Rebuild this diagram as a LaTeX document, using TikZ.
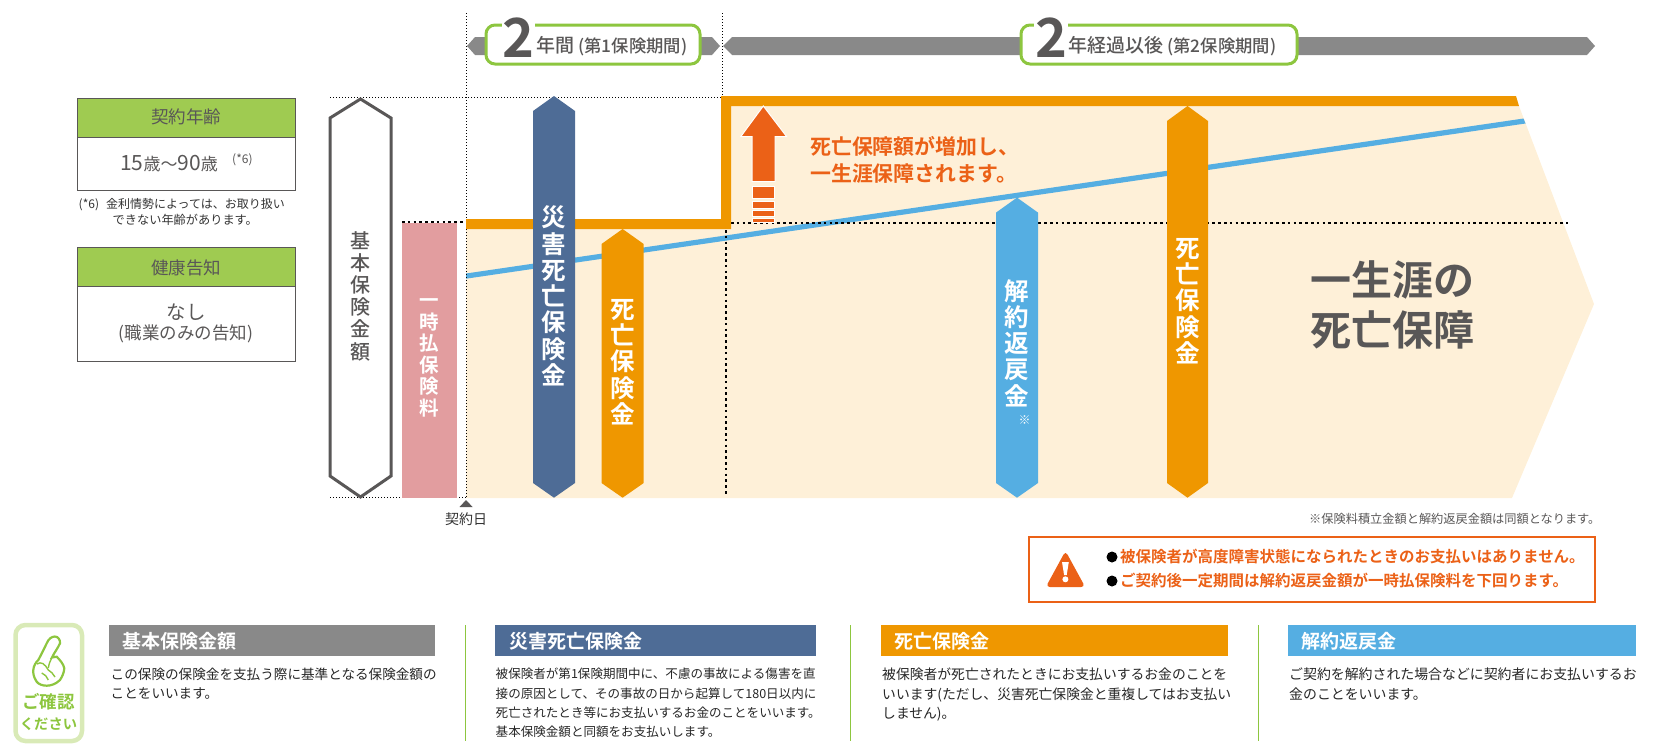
\documentclass[tikz,border=0pt]{standalone}
\usepackage{fontspec}
\setmainfont{Noto Sans CJK JP}[BoldFont={Noto Sans CJK JP Bold}]
\newfontfamily\midfont{Noto Sans CJK JP Medium}
\usepackage{tikz}
\usetikzlibrary{positioning, calc}

\definecolor{LeafGreen}{HTML}{9FCB51}
\definecolor{EdgeGreen}{HTML}{8DC63F}
\definecolor{PaleGreen}{HTML}{D9EAB7}
\definecolor{Slate}{HTML}{4E6C96}
\definecolor{Amber}{HTML}{EF9700}
\definecolor{Sky}{HTML}{55AEE2}
\definecolor{Cream}{HTML}{FEF0D8}
\definecolor{BarGray}{HTML}{898989}
\definecolor{InkGray}{HTML}{595757}
\definecolor{Rust}{HTML}{EB6117}
\definecolor{Rose}{HTML}{E29D9F}

\newcommand{\fsize}[1]{\fontsize{#1}{#1}\selectfont}

\tikzset{
    fineDots/.style={black, line width=0.9pt, dash pattern=on 1pt off 2pt},
    fatDots/.style={black, line width=2.6pt, dash pattern=on 2.6pt off 3.2pt},
    noteText/.style={inner sep=0pt, anchor=west, text=InkGray},
    columnTitle/.style={inner sep=0pt, anchor=west, text=white, font=\bfseries\fsize{19}},
    columnBody/.style={inner sep=0pt, anchor=north west, align=left, text=black!85,
        font=\fontsize{#1}{19.2}\selectfont},
    upright/.style={inner sep=0pt, align=center, text=white,
        font=\bfseries\fontsize{24.5}{26.3}\selectfont},
    warnText/.style={inner sep=0pt, anchor=west, text=Rust, font=\bfseries\fsize{15.5}},
    greenTag/.style={draw=InkGray, line width=1pt, fill=LeafGreen},
    whiteTag/.style={draw=InkGray, line width=1pt, fill=white},
    periodBox/.style={draw=EdgeGreen, line width=3pt, fill=white, rounded corners=9pt}
}

\begin{document}
\begin{tikzpicture}[x=1pt, y=-1pt]
    \useasboundingbox (0,0) rectangle (1655,755);

    \coordinate (start) at (466,0);
    \coordinate (switch) at (722,0);

    % cream area
    \fill[Cream] (466,229) -- (731,229) -- (731,106) -- (1519,106)
        -- (1594,304) -- (1512,498) -- (466,498) -- cycle;

    % surrender value line
    \fill[Sky] (466,273.5) -- (1523.5,118.5) -- (1525.5,123.5) -- (466,278.7) -- cycle;

    % dotted guides
    \draw[fineDots] (start |- 0,13) -- (start |- 0,498);
    \draw[fineDots] (switch |- 0,13) -- (switch |- 0,97);
    \draw[fineDots] (330,97) -- (switch |- 0,97);
    \draw[fineDots] (330,497.5) -- (start |- 0,497.5);
    \draw[fatDots] (402,222) -- (466,222);
    \draw[fatDots] (731,223) -- (1568,223);
    \draw[fatDots] (726,230) -- (726,495);

    % death benefit level
    \fill[Amber] (466,219) -- (721,219) -- (721,96) -- (1516,96) -- (1519,106)
        -- (731,106) -- (731,229) -- (466,229) -- cycle;

    % period bars
    \fill[BarGray] (467,46) -- (475,37) -- (712,37) -- (720,46) -- (712,55) -- (475,55) -- cycle;
    \fill[BarGray] (723,46) -- (732,37) -- (1587,37) -- (1595,46) -- (1587,55) -- (732,55) -- cycle;
    \draw[periodBox] (486,25) rectangle (700,64);
    \draw[periodBox] (1021,25) rectangle (1297,64);
    \node[inner sep=1pt, fill=white, text=InkGray, font=\bfseries\fsize{54}] (firstTwo) at (518.5,38) {2};
    \node[inner sep=1pt, fill=white, text=InkGray, font=\bfseries\fsize{54}] (secondTwo) at (1051,38) {2};
    \node[noteText, font=\midfont\fsize{19}] (firstPeriod) at (536,46)
        {年間 {\fsize{17.3}(第1保険期間)}};
    \node[noteText, font=\midfont\fsize{19}] (secondPeriod) at (1068,46)
        {年経過以後 {\fsize{17.3}(第2保険期間)}};

    % left tags
    \draw[greenTag] (77.5,98) rectangle (295,137);
    \draw[whiteTag] (77.5,137) rectangle (295,190);
    \draw[greenTag] (77.5,247) rectangle (295,286.5);
    \draw[whiteTag] (77.5,286.5) rectangle (295,361);
    \node[text=InkGray, font=\fsize{17.5}, inner sep=0pt] (ageHead) at (186,117) {契約年齢};
    \node[noteText, font=\fsize{21}] (ageRange) at (120,164)
        {15{\fsize{17}歳}{\fsize{17}〜}90{\fsize{17}歳}};
    \node[noteText, font=\fsize{12}] (ageMark) at (232,160) {(*6)};
    \node[noteText, text=black!80, font=\fsize{12}] (ageNoteA) at (78.5,205)
        {(*6)\hspace{7pt}金利情勢によっては、お取り扱い};
    \node[noteText, text=black!80, font=\fsize{12.2}] (ageNoteB) at (112.5,220)
        {できない年齢があります。};
    \node[text=InkGray, font=\fsize{17.5}, inner sep=0pt] (healthHead) at (186,267.5) {健康告知};
    \node[text=InkGray, font=\fsize{19.5}, inner sep=0pt] (healthNone) at (186,312) {なし};
    \node[text=InkGray, font=\fsize{17.5}, inner sep=0pt] (healthJob) at (186,333.5) {(職業のみの告知)};

    % sum insured and premium
    \draw[InkGray, line width=3pt, fill=white]
        (360.5,99) -- (391,118) -- (391,476) -- (360.5,497) -- (330,476) -- (330,118) -- cycle;
    \fill[Rose] (402,223) rectangle (457,497.5);
    \node[upright, text=InkGray, font=\midfont\fontsize{20}{22.2}\selectfont] (sumLabel) at (360.5,296)
        {基\\本\\保\\険\\金\\額};
    \node[upright, font=\bfseries\fontsize{19.5}{21.6}\selectfont] (premiumLabel) at (429.5,358)
        {一\\時\\払\\保\\険\\料};

    % benefit arrows
    \foreach \left/\right/\top/\shade in {
        533/575/96/Slate, 601.5/643.7/229/Amber, 996/1038/197.6/Sky, 1167/1208/106/Amber}
    {
        \fill[\shade] ($(\left,\top)!0.5!(\right,\top)$) -- (\right,\top+15) -- (\right,483)
            -- ($(\left,497.7)!0.5!(\right,497.7)$) -- (\left,483) -- (\left,\top+15) -- cycle;
    }
    \node[upright] (accidentLabel) at (554,296) {災\\害\\死\\亡\\保\\険\\金};
    \node[upright] (deathLabelA) at (622.6,362) {死\\亡\\保\\険\\金};
    \node[upright] (refundLabel) at (1017,343) {解\\約\\返\\戻\\金};
    \node[inner sep=0pt, text=white, font=\fsize{12}] (refundMark) at (1024.6,420) {※};
    \node[upright] (deathLabelB) at (1187.6,301) {死\\亡\\保\\険\\金};

    % rising arrow
    \draw[white, line width=1pt, fill=Rust]
        (763.3,106) -- (786.7,136.7) -- (775,136.7) -- (775,181.7) -- (752,181.7)
        -- (752,136.7) -- (740.7,136.7) -- cycle;
    \foreach \ya/\yb in {186.7/198.3, 201.7/208.3, 210.7/216, 218.7/222.5}
    {
        \draw[white, line width=1pt, fill=Rust] (752.5,\ya) rectangle (774.5,\yb);
    }
    \node[noteText, text=Rust, font=\bfseries\fsize{20.9}] (riseA) at (810,146) {死亡保障額が増加し、};
    \node[noteText, text=Rust, font=\bfseries\fsize{20.9}] (riseB) at (810,174) {一生涯保障されます。};
    \node[noteText, font=\bfseries\fsize{41}] (lifeA) at (1310,280) {一生涯の};
    \node[noteText, font=\bfseries\fsize{41}] (lifeB) at (1310,330) {死亡保障};

    % contract day
    \fill[InkGray] (466,500) -- (472.6,507) -- (459.5,507) -- cycle;
    \node[inner sep=0pt, text=black!80, font=\fsize{14}] (contractDay) at (466,519.5) {契約日};

    % warning
    \node[noteText, font=\fsize{12.2}] (footNote) at (1309,518.5) {※保険料積立金額と解約返戻金額は同額となります。};
    \draw[Rust, line width=2pt] (1029,537) rectangle (1595,602);
    \fill[Rust, draw=Rust, line width=2pt, rounded corners=2.5pt]
        (1065.5,553) -- (1083.5,586) -- (1047.5,586) -- cycle;
    \fill[white] (1062,562) -- (1068.8,562) -- (1066.7,575) -- (1064.1,575) -- cycle;
    \fill[white] (1065.4,579.3) circle (3pt);
    \fill[black] (1112,557) circle (5.5pt);
    \fill[black] (1112,581) circle (5.5pt);
    \node[warnText] (warnA) at (1120,557) {被保険者が高度障害状態になられたときのお支払いはありません。};
    \node[warnText] (warnB) at (1120,581) {ご契約後一定期間は解約返戻金額が一時払保険料を下回ります。};

    % check badge
    \draw[PaleGreen, line width=4.5pt, rounded corners=10pt] (15.5,625) rectangle (82,741);
    \draw[EdgeGreen, line width=2.2pt, fill=white]
        (55,636.5) .. controls (58,636.5) and (60.5,640) .. (60,643.3)
        .. controls (58,648) and (54,653) .. (52,657.5)
        -- (56.7,656.7)
        .. controls (60,660) and (63.5,664) .. (64.3,668.3)
        .. controls (64,673) and (62,677) .. (60,680)
        .. controls (56,684) and (51,685.7) .. (46.7,685.7)
        .. controls (42,685.7) and (38.5,684) .. (36.7,681.7)
        .. controls (33.5,677) and (33,673) .. (33.3,670)
        .. controls (33.5,666) and (36,662) .. (38.3,660)
        .. controls (41,655) and (44,649) .. (46.7,643.3)
        .. controls (48.5,639) and (51.5,636.5) .. (55,636.5);
    \draw[EdgeGreen, line width=1.4pt] (37,664) .. controls (41,661) and (45,664) .. (48.3,670)
        .. controls (51,671) and (53,674) .. (55,677);
    \draw[EdgeGreen, line width=1.4pt] (51.7,658) .. controls (50,661) and (49,664) .. (48.3,668);
    \draw[EdgeGreen, line width=1.4pt] (41.7,673) .. controls (45,674) and (47,677) .. (48.3,680);
    \node[inner sep=0pt, text=EdgeGreen, font=\bfseries\fsize{17.5}] (checkA) at (48.5,702) {ご確認};
    \node[inner sep=0pt, text=EdgeGreen, font=\bfseries\fsize{14.3}] (checkB) at (48.5,724) {ください};

    % glossary columns
    \foreach \x in {465,850,1258}
    {
        \draw[EdgeGreen, line width=1pt] (\x,625) -- (\x,741);
    }
    \fill[BarGray] (109,625) rectangle (435,656);
    \fill[Slate] (495,625) rectangle (816,656);
    \fill[Amber] (881,625) rectangle (1228,656);
    \fill[Sky] (1288,625) rectangle (1636,656);
    \node[columnTitle] (sumTitle) at (122.5,641) {基本保険金額};
    \node[columnTitle] (accidentTitle) at (509,641) {災害死亡保険金};
    \node[columnTitle] (deathTitle) at (894,641) {死亡保険金};
    \node[columnTitle] (refundTitle) at (1301,641) {解約返戻金};
    \node[columnBody=13.6] (sumBody) at (110.5,668)
        {この保険の保険金を支払う際に基準となる保険金額の\\ことをいいます。};
    \node[columnBody=12.55] (accidentBody) at (495.5,668)
        {被保険者が第1保険期間中に、不慮の事故による傷害を直\\
         接の原因として、その事故の日から起算して180日以内に\\
         死亡されたとき等にお支払いするお金のことをいいます。\\
         基本保険金額と同額をお支払いします。};
    \node[columnBody=13.8] (deathBody) at (882,668)
        {被保険者が死亡されたときにお支払いするお金のことを\\
         いいます(ただし、災害死亡保険金と重複してはお支払い\\
         しません)。};
    \node[columnBody=13.9] (refundBody) at (1289,668)
        {ご契約を解約された場合などに契約者にお支払いするお\\金のことをいいます。};
\end{tikzpicture}
\end{document}
